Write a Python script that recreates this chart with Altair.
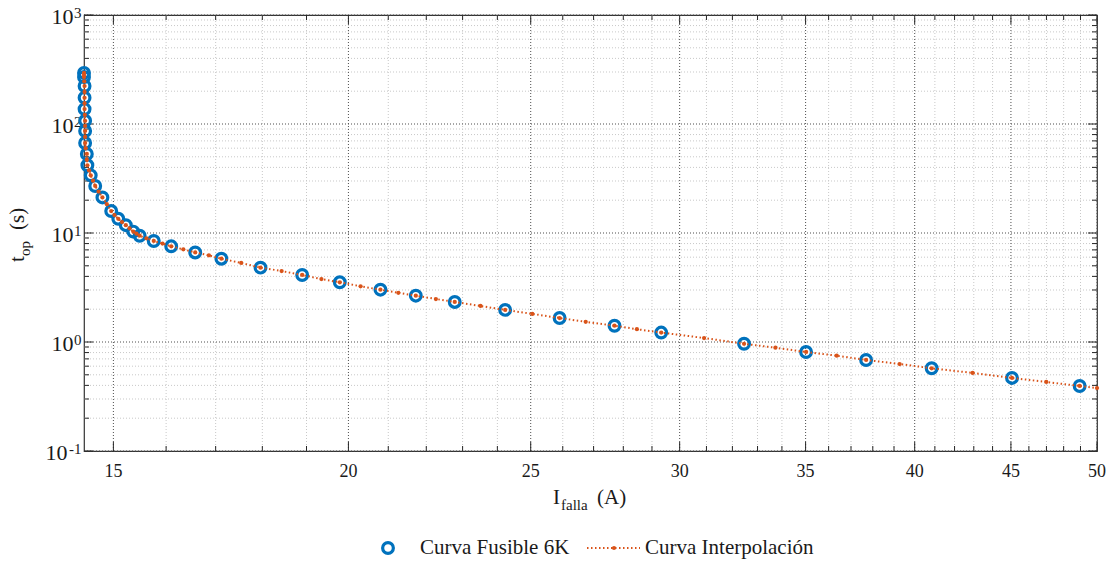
import altair as alt
import pandas as pd

# ---------------- data ----------------
fus_x = [14.47, 14.47, 14.48, 14.48, 14.48, 14.49, 14.49, 14.49, 14.52, 14.53,
         14.59, 14.67, 14.80, 14.96, 15.09, 15.23, 15.37, 15.49, 15.76, 16.10,
         16.58, 17.12, 17.96, 18.90, 19.79, 20.80, 21.72, 22.78, 24.23, 25.90,
         27.70, 29.33, 32.46, 35.02, 37.69, 40.84, 45.06, 48.95]
fus_y = [294, 270, 223, 174, 137, 107, 86.3, 66.9, 53.1, 41.8,
         33.8, 27.0, 21.2, 15.9, 13.5, 11.8, 10.3, 9.44, 8.45, 7.55,
         6.63, 5.81, 4.81, 4.12, 3.53, 3.02, 2.66, 2.33, 1.97, 1.66,
         1.41, 1.22, 0.963, 0.810, 0.684, 0.574, 0.468, 0.395]

int_x = [14.47, 14.47, 14.47, 14.475, 14.48, 14.48, 14.48, 14.48, 14.48, 14.485,
         14.49, 14.49, 14.49, 14.49, 14.49, 14.50, 14.52, 14.52, 14.53, 14.56,
         14.59, 14.63, 14.67, 14.73, 14.80, 14.88, 14.96, 15.02, 15.09, 15.16,
         15.23, 15.30, 15.37, 15.43, 15.49, 15.62, 15.76, 15.93, 16.10, 16.34,
         16.58, 16.86, 17.12, 17.54, 17.96, 18.43, 18.90, 19.35, 19.79, 20.30,
         20.80, 21.26, 21.72, 22.26, 22.78, 23.51, 24.23, 25.05, 25.90, 26.74,
         27.70, 28.47, 29.33, 30.91, 32.46, 33.73, 35.02, 36.36, 37.69, 39.27,
         40.84, 42.94, 45.06, 46.99, 48.95, 50.0]
int_y = [294, 282, 270, 246, 223, 197, 174, 155, 137, 121,
         107, 96, 86.3, 76, 66.9, 60, 53.1, 47, 41.8, 37.5,
         33.8, 30.2, 27.0, 24.0, 21.2, 18.4, 15.9, 14.6, 13.5, 12.6,
         11.8, 11.0, 10.3, 9.85, 9.44, 8.93, 8.45, 7.99, 7.55, 7.08,
         6.63, 6.24, 5.81, 5.31, 4.81, 4.48, 4.12, 3.78, 3.53, 3.24,
         3.02, 2.83, 2.66, 2.48, 2.33, 2.14, 1.97, 1.81, 1.66, 1.53,
         1.41, 1.31, 1.22, 1.088, 0.963, 0.886, 0.810, 0.749, 0.684, 0.628,
         0.574, 0.520, 0.468, 0.430, 0.395, 0.378]

x_major = [15, 20, 25, 30, 35, 40, 45, 50]
x_labels = ["15", "20", "25", "30", "35", "40", "45", "50"]
x_minor = [16, 17, 18, 19, 21, 22, 23, 24, 26, 27, 28, 29, 31, 32, 33, 34,
           36, 37, 38, 39, 41, 42, 43, 44, 46, 47, 48, 49]
y_major = [0.1, 1, 10, 100, 1000]
y_base = ["10", "10", "10", "10", "10"]
y_exp = ["-1", "0", "1", "2", "3"]
y_minor = [0.2, 0.3, 0.4, 0.5, 0.6, 0.7, 0.8, 0.9,
           2, 3, 4, 5, 6, 7, 8, 9,
           20, 30, 40, 50, 60, 70, 80, 90,
           200, 300, 400, 500, 600, 700, 800, 900]

legend_names = ["Curva Fusible 6K", "Curva Interpolación"]
x_title = ["I", "falla", "(A)"]
y_title = ["t", "op", "(s)"]

# ---------------- style ----------------
FONT = "Liberation Serif"
BLUE = "#0072BD"
ORANGE = "#D95319"
TXT = "#1a1a1a"
W, H = 1013, 436

xs = alt.Scale(type="log", domain=[14.47, 50], nice=False)
ys = alt.Scale(type="log", domain=[0.1, 1000], nice=False)

fus = pd.DataFrame({"I": fus_x, "t": fus_y})
itp = pd.DataFrame({"I": int_x, "t": int_y, "k": list(range(len(int_x)))})


def vgrid(vals, color, dash):
    return alt.Chart(pd.DataFrame({"v": vals})).mark_rule(
        color=color, strokeDash=dash, strokeWidth=1).encode(
        x=alt.X("v:Q", scale=xs, axis=None), y=alt.value(0), y2=alt.value(H))


def hgrid(vals, color, dash):
    return alt.Chart(pd.DataFrame({"v": vals})).mark_rule(
        color=color, strokeDash=dash, strokeWidth=1).encode(
        y=alt.Y("v:Q", scale=ys, axis=None), x=alt.value(0), x2=alt.value(W))


def xticks(vals, length):
    d = pd.DataFrame({"v": vals})
    b = alt.Chart(d).mark_rule(color="#262626", strokeWidth=1).encode(
        x=alt.X("v:Q", scale=xs, axis=None), y=alt.value(H), y2=alt.value(H - length))
    t = alt.Chart(d).mark_rule(color="#262626", strokeWidth=1).encode(
        x=alt.X("v:Q", scale=xs, axis=None), y=alt.value(0), y2=alt.value(length))
    return [b, t]


def yticks(vals, length):
    d = pd.DataFrame({"v": vals})
    l = alt.Chart(d).mark_rule(color="#262626", strokeWidth=1).encode(
        y=alt.Y("v:Q", scale=ys, axis=None), x=alt.value(0), x2=alt.value(length))
    r = alt.Chart(d).mark_rule(color="#262626", strokeWidth=1).encode(
        y=alt.Y("v:Q", scale=ys, axis=None), x=alt.value(W), x2=alt.value(W - length))
    return [l, r]


def txt(s, x, y, size, angle=0, align="left", baseline="alphabetic"):
    kw = dict(align=align, baseline=baseline, font=FONT, fontSize=size, color=TXT)
    if angle:
        kw["angle"] = angle
    return alt.Chart(pd.DataFrame({"s": [s]})).mark_text(**kw).encode(
        x=alt.value(x), y=alt.value(y), text="s:N")


layers = []
layers += [vgrid(x_minor, "#c8c8c8", [1, 2]), hgrid(y_minor, "#c8c8c8", [1, 2])]
layers += [vgrid(x_major, "#4d4d4d", [1, 2]), hgrid(y_major, "#4d4d4d", [1, 2])]
layers += xticks(x_minor, 5) + xticks(x_major, 9)
layers += yticks(y_minor, 5) + yticks(y_major, 9)

# tick labels
xl = pd.DataFrame({"v": x_major, "lab": x_labels})
layers.append(alt.Chart(xl).mark_text(
    align="center", baseline="alphabetic", font=FONT, fontSize=18, color=TXT, dy=26).encode(
    x=alt.X("v:Q", scale=xs, axis=None), y=alt.value(H), text="lab:N"))

yl = pd.DataFrame({"v": y_major, "base": y_base, "exp": y_exp})
yl["n"] = yl["exp"].str.len()
for n, xb in [(1, -10.5), (2, -16.5)]:
    layers.append(alt.Chart(yl[yl["n"] == n]).mark_text(
        align="right", baseline="alphabetic", font=FONT, fontSize=22, color=TXT, dy=9).encode(
        y=alt.Y("v:Q", scale=ys, axis=None), x=alt.value(xb), text="base:N"))
layers.append(alt.Chart(yl).mark_text(
    align="right", baseline="alphabetic", font=FONT, fontSize=15, color=TXT, dy=3).encode(
    y=alt.Y("v:Q", scale=ys, axis=None), x=alt.value(-2.5), text="exp:N"))

circles = alt.Chart(fus).mark_point(
    shape="circle", size=115, filled=False, stroke=BLUE, strokeWidth=3.2, opacity=1).encode(
    x=alt.X("I:Q", scale=xs, axis=None), y=alt.Y("t:Q", scale=ys, axis=None))
line = alt.Chart(itp).mark_line(color=ORANGE, strokeWidth=2, strokeDash=[1.5, 2.5]).encode(
    x=alt.X("I:Q", scale=xs, axis=None), y=alt.Y("t:Q", scale=ys, axis=None), order="k:Q")
dots = alt.Chart(itp).mark_point(shape="circle", size=18, filled=True, color=ORANGE, opacity=1).encode(
    x=alt.X("I:Q", scale=xs, axis=None), y=alt.Y("t:Q", scale=ys, axis=None))
layers += [circles, line, dots]

# axis titles (with subscripts)
layers += [txt(x_title[0], 469, 489, 21), txt(x_title[1], 477, 495, 15),
           txt(x_title[2], 513, 489, 21)]
layers += [txt(y_title[0], -60, 247, 21, angle=270), txt(y_title[1], -54, 241, 15, angle=270),
           txt(y_title[2], -60, 215, 21, angle=270)]

# legend
one = pd.DataFrame({"a": [0]})
layers += [
    alt.Chart(one).mark_point(shape="circle", size=115, filled=False, stroke=BLUE,
                              strokeWidth=3.2, opacity=1).encode(x=alt.value(304), y=alt.value(533)),
    txt(legend_names[0], 336, 533, 21, baseline="middle"),
    alt.Chart(one).mark_rule(color=ORANGE, strokeWidth=2, strokeDash=[1.5, 2.5]).encode(
        x=alt.value(503), x2=alt.value(556), y=alt.value(533)),
    alt.Chart(one).mark_point(shape="circle", size=18, filled=True, color=ORANGE,
                              opacity=1).encode(x=alt.value(530), y=alt.value(533)),
    txt(legend_names[1], 561, 533, 21, baseline="middle"),
]

chart = alt.layer(*layers).properties(
    width=W, height=H,
    autosize=alt.AutoSizeParams(type="none"),
    padding={"left": 84, "top": 15, "right": 16, "bottom": 113},
    background="white",
).configure_view(stroke="#333333", strokeWidth=1.2)

chart.save("out.html", embed_options={"renderer": "svg", "actions": False})
